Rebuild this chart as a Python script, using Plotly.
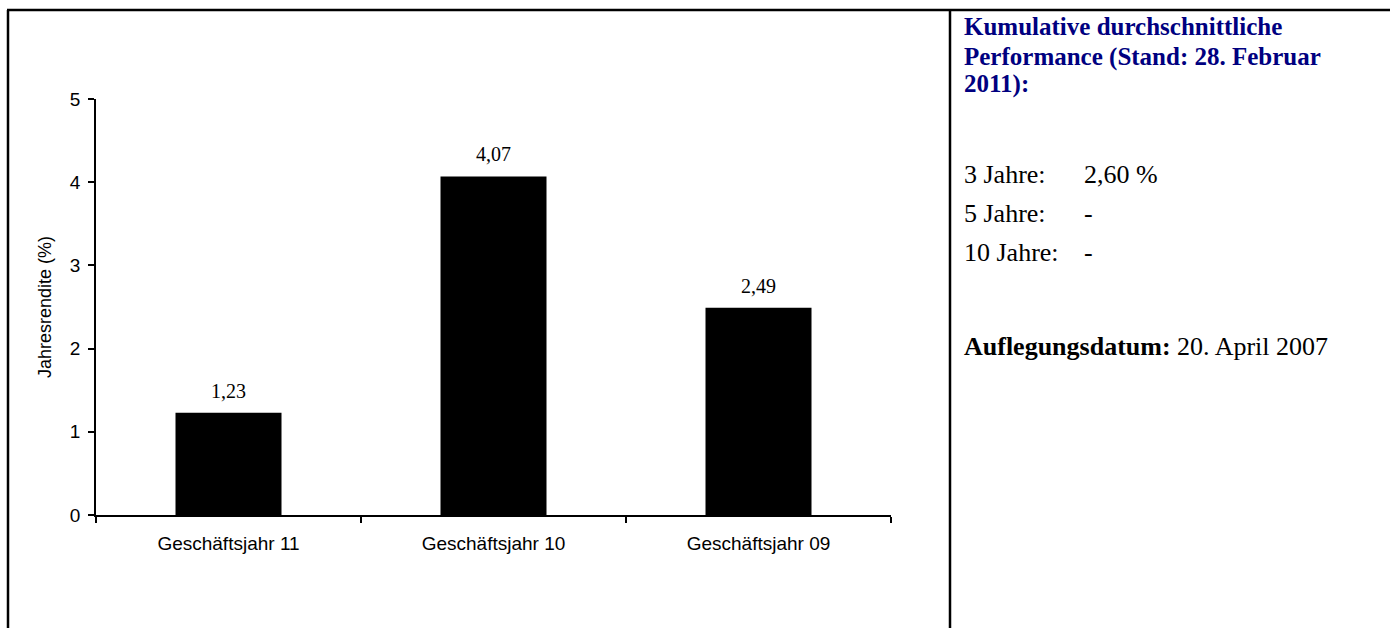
import plotly.graph_objects as go

# ---- data ----
categories = ["Geschäftsjahr 11", "Geschäftsjahr 10", "Geschäftsjahr 09"]
returns = [1.23, 4.07, 2.49]
y_ticks = [0, 1, 2, 3, 4, 5]
y_title = "Jahresrendite (%)"
panel_title = ["Kumulative durchschnittliche", "Performance (Stand: 28. Februar", "2011):"]
perf_labels = ["3 Jahre:", "5 Jahre:", "10 Jahre:"]
perf_values = ["2,60 %", "-", "-"]
launch_label = "Auflegungsdatum:"
launch_value = "20. April 2007"

W, H = 1390, 628
L, R, T, B = 96, 891, 99, 515
pw, ph = R - L, B - T


def px(x):
    return (x - L) / pw


def py(y):
    return (B - y) / ph


SANS = "Liberation Sans, Arial, sans-serif"
SERIF = "Liberation Serif, Times New Roman, serif"

fig = go.Figure()
fig.add_trace(go.Bar(
    x=categories, y=returns, width=0.4,
    marker=dict(color="black", line=dict(width=0)),
    hoverinfo="skip",
))

annotations = []
for c, v in zip(categories, returns):
    annotations.append(dict(
        x=c, y=v, xref="x", yref="y", text=f"{v:.2f}".replace(".", ","),
        showarrow=False, yshift=22, yanchor="middle",
        font=dict(family=SERIF, size=20, color="black"),
    ))

TX = 962
title_y = [27, 57, 84]
for t, yy in zip(panel_title, title_y):
    annotations.append(dict(
        x=px(TX), y=py(yy), xref="paper", yref="paper", text=f"<b>{t}</b>",
        showarrow=False, xanchor="left", yanchor="middle",
        font=dict(family=SERIF, size=25, color="#000080"),
    ))

body_y = [174, 213, 252]
for lab, val, yy in zip(perf_labels, perf_values, body_y):
    annotations.append(dict(
        x=px(TX), y=py(yy), xref="paper", yref="paper", text=lab,
        showarrow=False, xanchor="left", yanchor="middle",
        font=dict(family=SERIF, size=26, color="black"),
    ))
    annotations.append(dict(
        x=px(1082), y=py(yy), xref="paper", yref="paper", text=val,
        showarrow=False, xanchor="left", yanchor="middle",
        font=dict(family=SERIF, size=26, color="black"),
    ))

annotations.append(dict(
    x=px(TX), y=py(346), xref="paper", yref="paper",
    text=f"<b>{launch_label}</b> {launch_value}",
    showarrow=False, xanchor="left", yanchor="middle",
    font=dict(family=SERIF, size=26, color="black"),
))

shapes = [
    dict(type="line", xref="paper", yref="paper", x0=px(7), x1=px(W + 20), y0=py(10), y1=py(10),
         line=dict(color="black", width=2.5)),
    dict(type="line", xref="paper", yref="paper", x0=px(8), x1=px(8), y0=py(10), y1=py(H + 20),
         line=dict(color="black", width=2.5)),
    dict(type="line", xref="paper", yref="paper", x0=px(950), x1=px(950), y0=py(10), y1=py(H + 20),
         line=dict(color="black", width=2.5)),
]

fig.update_layout(
    width=W, height=H,
    margin=dict(l=L, r=W - R, t=T, b=H - B, autoexpand=False),
    paper_bgcolor="white", plot_bgcolor="white",
    showlegend=False,
    annotations=annotations, shapes=shapes,
    font=dict(family=SANS, size=19, color="black"),
)
fig.update_xaxes(
    showline=True, linecolor="black", linewidth=1.5,
    ticks="outside", tickson="boundaries", ticklen=6, tickcolor="black", tickwidth=1.5,
    showgrid=False, tickfont=dict(family=SANS, size=19, color="black"),
    ticklabelstandoff=10,
)
fig.update_yaxes(
    range=[0, 5], tickvals=y_ticks, showline=True, linecolor="black", linewidth=1.5,
    ticks="outside", ticklen=6, tickcolor="black", tickwidth=1.5,
    showgrid=False, zeroline=False, tickfont=dict(family=SANS, size=19, color="black"),
    ticklabelstandoff=4,
    title=dict(text=y_title, font=dict(family=SANS, size=18, color="black"), standoff=14),
)

fig.write_html("out.html", config={"displayModeBar": False},
               post_script="document.body.style.margin='0';")
